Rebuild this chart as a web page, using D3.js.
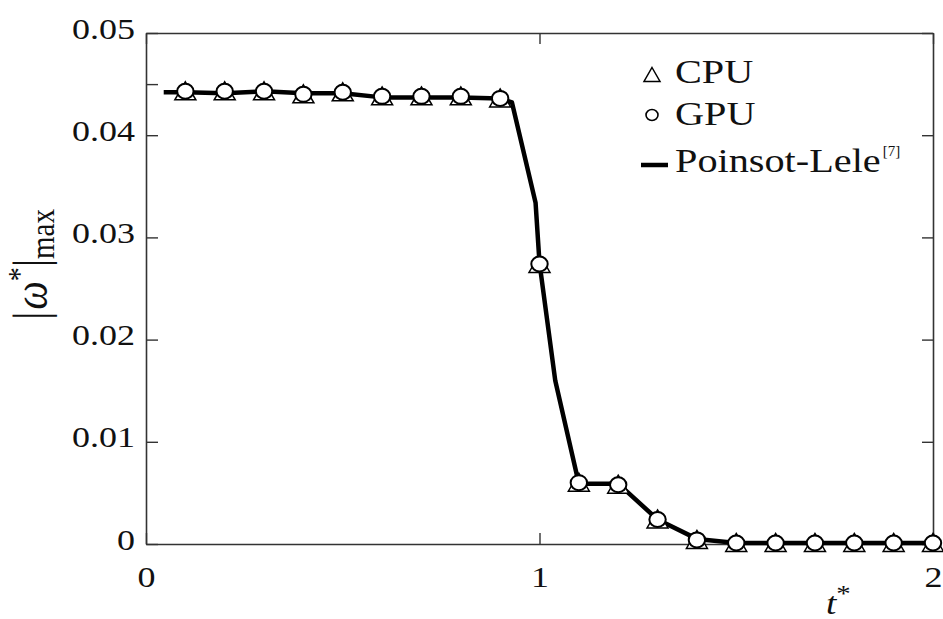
<!DOCTYPE html>
<html><head><meta charset="utf-8">
<script src="https://cdn.jsdelivr.net/npm/d3@7/dist/d3.min.js"></script>
<style>body{margin:0;background:#fff}svg{display:block}</style>
</head><body>
<svg id="chart" width="943" height="619"></svg>
<script>
// ---- data ----
const markerT = [0.1,0.2,0.3,0.4,0.5,0.6,0.7,0.8,0.9,1.0,1.1,1.2,1.3,1.4,1.5,1.6,1.7,1.8,1.9,2.0];
const cpuValues = [0.0443,0.0443,0.0443,0.0440,0.0442,0.0438,0.0438,0.0438,0.0436,0.0274,0.0060,0.0058,0.0024,0.0004,0.0001,0.0001,0.0001,0.0001,0.0001,0.0001];
const gpuValues = [0.0443,0.0443,0.0443,0.0440,0.0442,0.0438,0.0438,0.0438,0.0436,0.0274,0.0060,0.0058,0.0024,0.0004,0.0001,0.0001,0.0001,0.0001,0.0001,0.0001];
const leleT = [0.045,0.1,0.2,0.3,0.4,0.5,0.6,0.7,0.8,0.9,0.93,0.99,1.0,1.04,1.1,1.2,1.3,1.4,1.5,1.6,1.7,1.8,1.9,2.0];
const leleValues = [0.0442,0.0442,0.0441,0.0443,0.0441,0.0441,0.0437,0.0437,0.0437,0.0436,0.0432,0.0334,0.0275,0.0160,0.0059,0.0059,0.0024,0.0005,0.0001,0.0001,0.0001,0.0001,0.0001,0.0001];
const xTicks = [0,1,2];
const xTickLabels = ["0","1","2"];
const yTicks = [0,0.01,0.02,0.03,0.04,0.05];
const yTickLabels = ["0","0.01","0.02","0.03","0.04","0.05"];
const yMinorTicks = [0.045];
const seriesNames = ["CPU","GPU","Poinsot-Lele"];
const citation = "[7]";

// ---- layout ----
const SX = 1.2;
const svg = d3.select("#chart");
const x = d3.scaleLinear().domain([0,2]).range([146,933]);
const y = d3.scaleLinear().domain([0,0.05]).range([544,33]);
const serif = "'Liberation Serif','Times New Roman',serif";
const frameColor = "#333";

function styleAxis(g){
  g.select(".domain").attr("stroke",frameColor).attr("stroke-width",1.6);
  g.selectAll(".tick line").attr("stroke",frameColor).attr("stroke-width",1.4);
}
const gl = svg.append("g").attr("transform",`translate(${x(0)},0)`)
  .call(d3.axisLeft(y).tickValues(yTicks).tickFormat((d,i)=>yTickLabels[i]).tickSizeInner(-12).tickSizeOuter(0).tickPadding(11));
styleAxis(gl);
gl.selectAll(".tick text").attr("font-family",serif).attr("font-size",30).attr("fill","#111")
  .attr("transform",`scale(${SX},1)`).attr("x",-11/SX).attr("dy","5px");
svg.append("g").attr("transform",`translate(${x(0)},0)`)
  .call(d3.axisLeft(y).tickValues(yMinorTicks).tickFormat("").tickSizeInner(-12).tickSizeOuter(0))
  .call(g=>{g.select(".domain").remove();g.selectAll(".tick line").attr("stroke",frameColor).attr("stroke-width",1.4);});

const gr = svg.append("g").attr("transform",`translate(${x(2)},0)`)
  .call(d3.axisRight(y).tickValues(yTicks).tickFormat("").tickSizeInner(-11).tickSizeOuter(0));
styleAxis(gr);

const gb = svg.append("g").attr("transform",`translate(0,${y(0)})`)
  .call(d3.axisBottom(x).tickValues(xTicks).tickFormat((d,i)=>xTickLabels[i]).tickSizeInner(-11).tickSizeOuter(0).tickPadding(0));
styleAxis(gb);
gb.selectAll(".tick text").attr("font-family",serif).attr("font-size",30).attr("fill","#111")
  .attr("transform",`scale(${SX},1)`).attr("y",43).attr("dy","0");

const gt = svg.append("g").attr("transform",`translate(0,${y(0.05)})`)
  .call(d3.axisTop(x).tickValues(xTicks).tickFormat("").tickSizeInner(-11).tickSizeOuter(0));
styleAxis(gt);

// line
const line = d3.line().x(d=>x(d[0])).y(d=>y(d[1]));
svg.append("path").datum(leleT.map((t,i)=>[t,leleValues[i]]))
  .attr("d",line).attr("fill","none").attr("stroke","#000").attr("stroke-width",4.5)
  .attr("stroke-linejoin","round");

// triangles (CPU)
const tri = (cx,cy,hw,top,bot)=>`M${cx},${cy-top}L${cx+hw},${cy+bot}L${cx-hw},${cy+bot}Z`;
svg.append("g").selectAll("path").data(markerT.map((t,i)=>[t,cpuValues[i]])).join("path")
  .attr("d",d=>tri(x(d[0]),y(d[1]),10.5,9.5,8.5))
  .attr("fill","#fff").attr("stroke","#000").attr("stroke-width",1.5);
// circles (GPU)
svg.append("g").selectAll("ellipse").data(markerT.map((t,i)=>[t,gpuValues[i]])).join("ellipse")
  .attr("cx",d=>x(d[0])).attr("cy",d=>y(d[1])).attr("rx",8.2).attr("ry",7.5)
  .attr("fill","#fff").attr("stroke","#000").attr("stroke-width",2);

// legend
const lx = 652;
svg.append("path").attr("d",tri(lx,75,8,7.5,6.5)).attr("fill","#fff").attr("stroke","#000").attr("stroke-width",1.5);
svg.append("ellipse").attr("cx",lx).attr("cy",115).attr("rx",6).attr("ry",5.5).attr("fill","#fff").attr("stroke","#000").attr("stroke-width",1.6);
svg.append("line").attr("x1",641).attr("x2",668).attr("y1",165).attr("y2",165).attr("stroke","#000").attr("stroke-width",4.5);
const legendY = [83,125,172];
const legSX = 1.22;
let lastW = 0;
seriesNames.forEach((n,i)=>{
  const t = svg.append("text").attr("transform",`translate(675,${legendY[i]}) scale(${legSX},1)`)
    .attr("font-family",serif).attr("font-size",33).attr("fill","#111").text(n);
  lastW = t.node().getComputedTextLength()*legSX;
});
svg.append("text").attr("x",675+lastW+2).attr("y",156).attr("font-family",serif)
  .attr("font-size",15).attr("fill","#111").text(citation);

// x label
const xl = svg.append("text").attr("transform",`translate(826,614) scale(${SX},1)`)
  .attr("font-family",serif).attr("fill","#111");
xl.append("tspan").attr("font-size",31).attr("font-style","italic").text("t");
xl.append("tspan").attr("font-size",24).attr("dy",-13).text("*");

// y label
const yl = svg.append("text").attr("transform",`translate(47,320) rotate(-90) scale(1,1.15)`)
  .attr("font-family",serif).attr("fill","#111");
yl.append("tspan").attr("font-size",42).text("|");
yl.append("tspan").attr("font-size",40).attr("font-style","italic").attr("dx",2).text("ω");
yl.append("tspan").attr("font-size",28).attr("dy",-15).text("*");
yl.append("tspan").attr("font-size",42).attr("dy",15).text("|");
yl.append("tspan").attr("font-size",29).attr("dy",6).text("max");
</script>
</body></html>
